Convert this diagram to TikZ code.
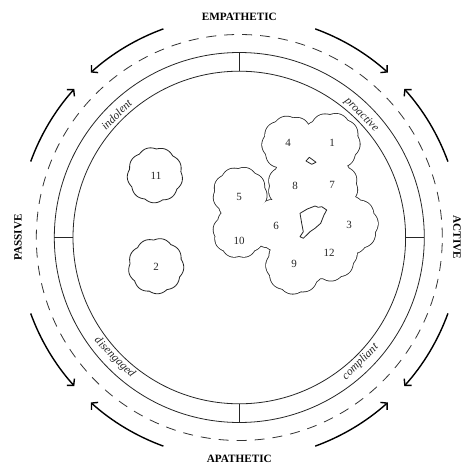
\documentclass[tikz,border=0pt]{standalone}
\usepackage{fontspec}
\setmainfont{Liberation Serif}
\usetikzlibrary{arrows.meta}
\newcommand\blobpath[5]{\path[#5] plot[domain=0:360,samples=145,variable=\t] ({#1+#3*(1+0.07*abs(sin(4.5*(\t+#4))))*cos(\t)},{#2+#3*(1+0.07*abs(sin(4.5*(\t+#4))))*sin(\t)}) -- cycle;}
\tikzset{
  ringline/.style={line width=0.8pt, draw=black!85},
  dashring/.style={line width=0.8pt, draw=black!80, dash pattern=on 10pt off 8pt},
  arrline/.style={line width=1.4pt, -{Straight Barb[length=4.5pt,width=10pt]}},
  axislabel/.style={font=\bfseries\fontsize{11.2}{13}\selectfont, inner sep=0pt},
  itallabel/.style={font=\itshape\fontsize{11.5}{13}\selectfont, inner sep=0pt, text=black!85},
  numlabel/.style={font=\fontsize{11}{13}\selectfont, inner sep=0pt, text=black!85},
  blobline/.style={draw=black!85, line width=1.6pt},
  blobfill/.style={fill=white},
  holeline/.style={draw=black!85, line width=0.8pt, line join=round}
}
\begin{document}
\begin{tikzpicture}[x=1pt,y=-1pt,line join=round]
\useasboundingbox (0,0) rectangle (464,465);
\fill[white] (0,0) rectangle (464,465);
\begin{scope}[shift={(239.3,237.5)},yscale=-1]
  \draw[ringline] (0,0) circle (185);
  \draw[ringline] (0,0) circle (166.3);
  \draw[dashring] (0,0) circle (203);
  \foreach \a in {0,90,180,270} \draw[ringline] (\a:166.3) -- (\a:185);
  \foreach \s/\e in {110/132,70/48,20/42,160/138,200/222,250/228,290/312,340/318}
    \draw[arrline] (\s:222) arc[start angle=\s,end angle=\e,radius=222];
\end{scope}
% axis labels
\node[axislabel] (emp) at (239.3,16.5) {EMPATHETIC};
\node[axislabel] (apa) at (239.3,458.5) {APATHETIC};
\node[axislabel,rotate=90] (pas) at (18,237.5) {PASSIVE};
\node[axislabel,rotate=-90] (act) at (457,237.5) {ACTIVE};
% ring labels
\node[itallabel,rotate=45] (ind) at (116.5,114.5) {indolent};
\node[itallabel,rotate=-45] (pro) at (361.5,115) {proactive};
\node[itallabel,rotate=-45] (dis) at (114.5,357.5) {disengaged};
\node[itallabel,rotate=45] (com) at (360.5,362) {compliant};
% single blobs
\blobpath{155}{175}{26}{7}{draw=black!85, line width=0.8pt}
\blobpath{156}{266}{26}{15}{draw=black!85, line width=0.8pt}
% cluster: strokes, then fills
\foreach \cx/\cy/\r/\p in {290/144/26/3, 331/142/27/12, 296/186/26/20, 331/186/25/5,
  240/194/25/14, 239/232/24/30, 276/225/24/8, 349/225/27/25, 329/253/26/17, 295/265/27/2}
  {\blobpath{\cx}{\cy}{\r}{\p}{blobline}}
\foreach \cx/\cy/\r/\p in {290/144/26/3, 331/142/27/12, 296/186/26/20, 331/186/25/5,
  240/194/25/14, 239/232/24/30, 276/225/24/8, 349/225/27/25, 329/253/26/17, 295/265/27/2}
  {\blobpath{\cx}{\cy}{\r}{\p}{blobfill}}
\fill[white] (313,220) circle (25);
\fill[white] (311,163) circle (10);
% holes
\draw[holeline] (300,213.3) -- (307.3,209) -- (315,206) -- (318.3,207.3) -- (321.7,206.7) -- (326.7,210) -- (324,215) -- (320.7,223.3) -- (315,228.3) -- (310,231.7) -- (306.7,235) -- (303.3,238.3) -- (300,236.7) -- (303.3,231.7) -- (301.7,223.3) -- cycle;
\draw[holeline] (306,161) -- (309.3,157.3) -- (316,162.3) -- (311.7,164.3) -- cycle;
% numbers
\node[numlabel] (n1) at (332,143) {1};
\node[numlabel] (n2) at (156,267) {2};
\node[numlabel] (n3) at (349,225) {3};
\node[numlabel] (n4) at (288,143) {4};
\node[numlabel] (n5) at (239,197) {5};
\node[numlabel] (n6) at (276,226) {6};
\node[numlabel] (n7) at (332,185) {7};
\node[numlabel] (n8) at (295,186) {8};
\node[numlabel] (n9) at (294,264) {9};
\node[numlabel] (n10) at (239,241) {10};
\node[numlabel] (n11) at (156,176) {11};
\node[numlabel] (n12) at (329,253) {12};
\end{tikzpicture}
\end{document}
